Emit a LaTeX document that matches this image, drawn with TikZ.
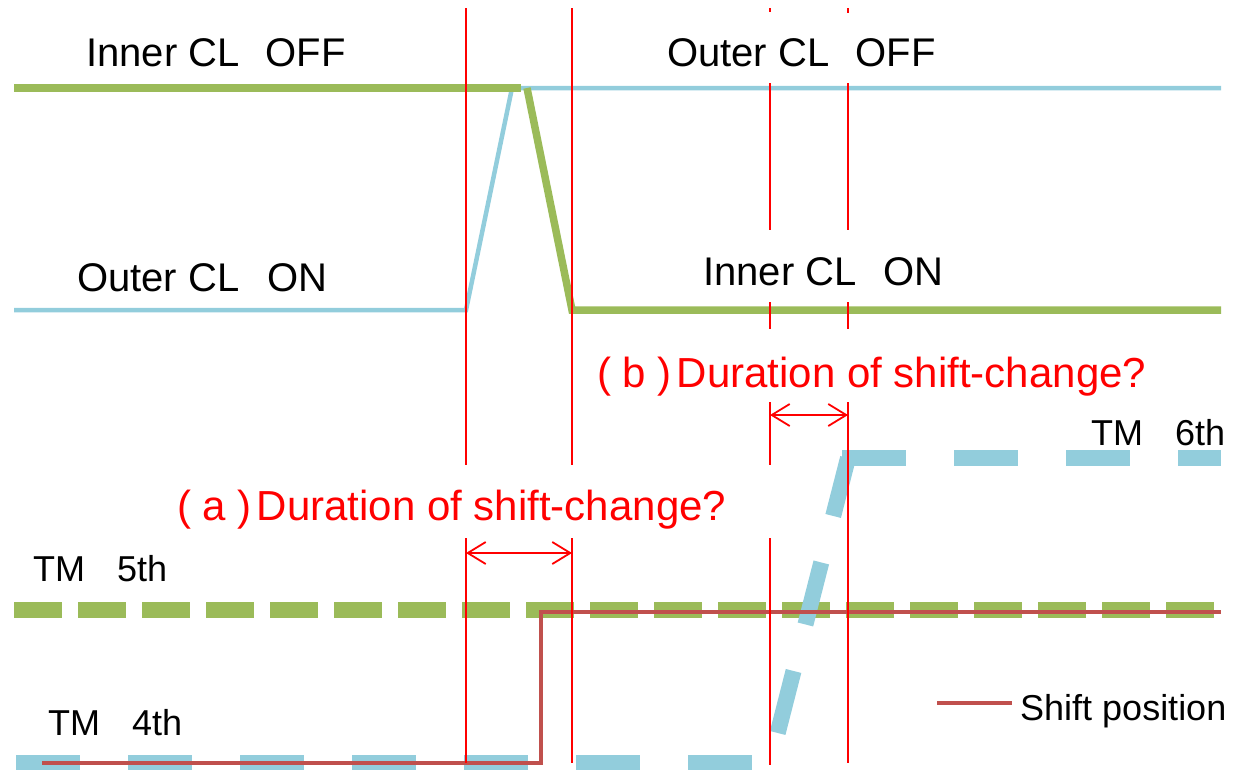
\documentclass[tikz,border=0pt]{standalone}
\usepackage{fontspec}
\setmainfont{Liberation Sans}
\usetikzlibrary{arrows.meta}
\definecolor{cgreen}{HTML}{9BBB59}
\definecolor{cblue}{HTML}{92CDDC}
\definecolor{cshift}{HTML}{C0504D}
\definecolor{cred}{HTML}{FF0000}
\begin{document}
\begin{tikzpicture}[x=1pt,y=-1pt,
  lbl/.style={anchor=base west, inner sep=0pt, font=\fontsize{40}{43}\selectfont},
  qlbl/.style={anchor=base west, inner sep=0pt, text=cred, font=\fontsize{42}{46}\selectfont},
  slbl/.style={anchor=base west, inner sep=0pt, font=\fontsize{36}{39}\selectfont},
  gline/.style={draw=cgreen, line width=7.5pt},
  bline/.style={draw=cblue, line width=4.5pt},
  gdash/.style={draw=cgreen, line width=16pt, dash pattern=on 48pt off 16pt},
  bdash/.style={draw=cblue, line width=16pt, dash pattern=on 64pt off 48pt},
  shiftline/.style={draw=cshift, line width=3.5pt},
  rline/.style={draw=cred, line width=1.8pt},
  dur/.style={draw=cred, line width=1.8pt, {Straight Barb[length=18pt,width=22pt]}-{Straight Barb[length=18pt,width=22pt]}},
]
\useasboundingbox (0,0) rectangle (1239,769);
\clip (0,0) rectangle (1239,769);
% clutch lines
\draw[bline] (14,310) -- (466,310) -- (512,88) -- (1221,88);
\draw[gline] (14,88) -- (521,88);
\draw[gline] (527,88) -- (572,310) -- (1221,310);
% TM lines
\draw[gdash] (14,610) -- (1221,610);
\draw[bdash] (16,763) -- (770,763);
\draw[bdash, dash phase=81pt] (770,763) -- (848,458);
\draw[bdash] (842,458) -- (1221,458);
% shift position
\draw[shiftline] (42,763) -- (541,763) -- (541,612) -- (1221,612);
\draw[shiftline] (937,703) -- (1012,703);
% red vertical markers
\foreach \x in {466,572} {
  \draw[rline] (\x,8) -- (\x,465);
  \draw[rline] (\x,538) -- (\x,763);
}
\draw[rline] (770,8) -- (770,12);
\draw[rline] (770,83) -- (770,230);
\draw[rline] (770,302) -- (770,329);
\draw[rline] (770,402) -- (770,465);
\draw[rline] (770,538) -- (770,765);
\draw[rline] (848,8) -- (848,13);
\draw[rline] (848,83) -- (848,230);
\draw[rline] (848,302) -- (848,329);
\draw[rline] (848,402) -- (848,763);
% duration arrows
\coordinate (a1) at (466,553);
\coordinate (a2) at (572,553);
\coordinate (b1) at (770,415);
\coordinate (b2) at (848,415);
\draw[dur] (a1) -- (a2);
\draw[dur] (b1) -- (b2);
% labels
\node[lbl] (innoff) at (86,66) {Inner CL\hspace{26pt}OFF};
\node[lbl] (outon) at (77,291) {Outer CL\hspace{28pt}ON};
\node[lbl] (outoff) at (667,66) {Outer CL\hspace{26pt}OFF};
\node[lbl] (innon) at (703,285) {Inner CL\hspace{27pt}ON};
\node[qlbl] (qb) at (597,387) {( b )\hspace{5pt}Duration of shift-change?};
\node[qlbl] (qa) at (177,520) {( a )\hspace{5pt}Duration of shift-change?};
\node[slbl] (tm6) at (1091,445) {TM\hspace{32pt}6th};
\node[slbl] (tm5) at (33,581) {TM\hspace{32pt}5th};
\node[slbl] (tm4) at (48,735) {TM\hspace{32pt}4th};
\node[slbl] (leg) at (1020,720) {Shift position};
\end{tikzpicture}
\end{document}
